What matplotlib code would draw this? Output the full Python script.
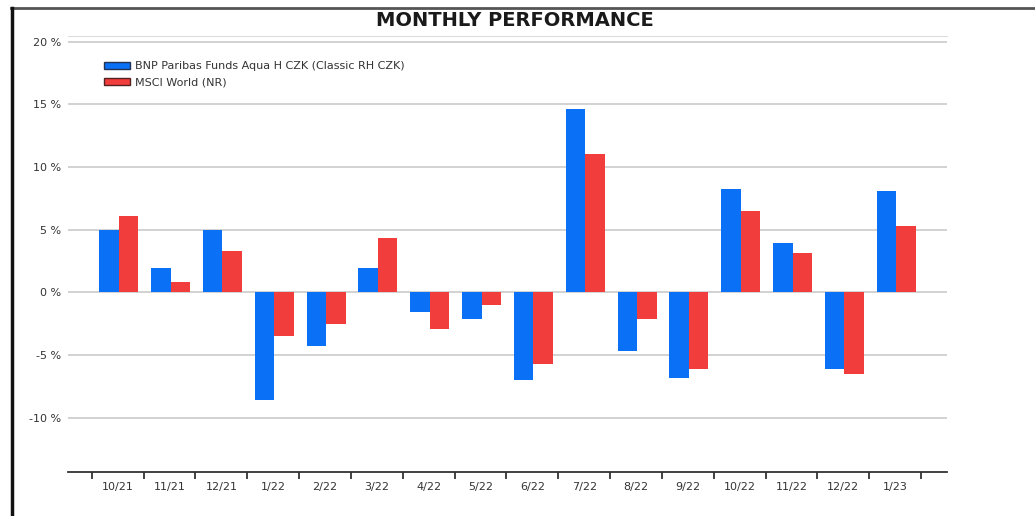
import matplotlib.pyplot as plt
from matplotlib.lines import Line2D
from matplotlib.patches import Patch
import numpy as np

# monthly returns, %
months = ["10/21", "11/21", "12/21", "1/22", "2/22", "3/22", "4/22", "5/22",
          "6/22", "7/22", "8/22", "9/22", "10/22", "11/22", "12/22", "1/23"]
fund = [5.0, 1.95, 4.95, -8.6, -4.25, 1.95, -1.6, -2.1,
        -7.0, 14.6, -4.65, -6.85, 8.25, 3.9, -6.1, 8.1]
msci = [6.1, 0.8, 3.3, -3.5, -2.55, 4.3, -2.9, -1.0,
        -5.7, 11.0, -2.15, -6.1, 6.5, 3.1, -6.5, 5.3]
series_names = ["BNP Paribas Funds Aqua H CZK (Classic RH CZK)", "MSCI World (NR)"]
yticks = [-10, -5, 0, 5, 10, 15, 20]

BLUE = "#0a70f5"
RED = "#f23d3d"

fig = plt.figure(figsize=(10.35, 5.16), dpi=100)
ax = fig.add_axes([68 / 1035, 1 - 472 / 516, (947 - 68) / 1035, (472 - 36) / 516])

x = np.arange(len(months))
w = 0.375
ax.bar(x - w / 2 + 0.02, fund, w, color=BLUE, zorder=3)
ax.bar(x + w / 2 + 0.02, msci, w, color=RED, zorder=3)

ax.set_xlim(-0.96, 16.0)
ax.set_ylim(-14.34, 20.45)

# y axis: gridlines and "% " labels
ax.set_yticks(yticks)
ax.set_yticklabels([f"{v} %" for v in yticks], fontsize=8, color="#333333")
ax.tick_params(axis="y", length=0, pad=5)
ax.yaxis.grid(True, color="#cfcfcf", linewidth=1.3, zorder=0)

# x axis: ticks between months, labels centred
ax.set_xticks(np.arange(len(months) + 1) - 0.5)
ax.set_xticklabels([])
ax.tick_params(axis="x", which="major", length=5, width=1.2, color="#222222", direction="out")
ax.set_xticks(x, minor=True)
ax.set_xticklabels(months, minor=True, fontsize=8, color="#333333")
ax.tick_params(axis="x", which="minor", length=0, pad=7)

for s in ["left", "right"]:
    ax.spines[s].set_visible(False)
ax.spines["top"].set_color("#dddddd")
ax.spines["bottom"].set_color("#333333")
ax.spines["bottom"].set_linewidth(1.3)

handles = [Patch(facecolor=BLUE, edgecolor="#223355"), Patch(facecolor=RED, edgecolor="#552222")]
ax.legend(handles, series_names, loc="upper left", bbox_to_anchor=(0.03, 0.965),
          frameon=False, fontsize=8, handlelength=2.35, handleheight=0.55,
          handletextpad=0.4, labelspacing=0.55, labelcolor="#333333")

fig.text(515 / 1035, 1 - 20 / 516, "MONTHLY PERFORMANCE", ha="center", va="center",
         fontsize=14, fontweight="bold", color="#1a1a1a")

# page frame
fig.add_artist(Line2D([11 / 1035, 1], [1 - 8 / 516] * 2, color="#555555", linewidth=2))
fig.add_artist(Line2D([12 / 1035] * 2, [0, 1 - 8 / 516], color="#111111", linewidth=2.5))

fig.savefig("out.png", dpi=100)
